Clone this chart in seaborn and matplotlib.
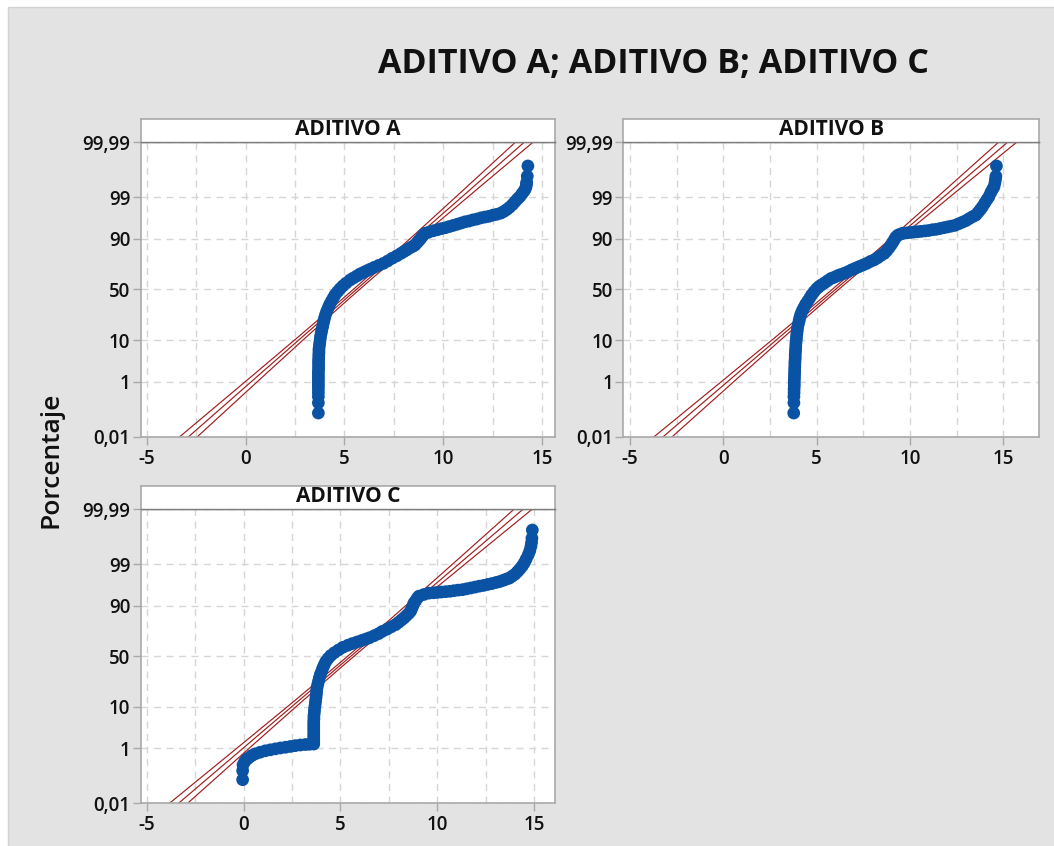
import numpy as np
import matplotlib
matplotlib.use("Agg")
import matplotlib.pyplot as plt
from matplotlib.patches import Rectangle
from matplotlib.ticker import NullLocator
import seaborn as sns
from statistics import NormalDist

# ---------------------------------------------------------------- data
# Observed values and their plotted percentages (Porcentaje)
aditivo_a_x = [3.68, 3.68, 3.68, 3.68, 3.68, 3.68, 3.68, 3.68, 3.68, 3.68, 3.68, 3.69, 3.69,
               3.69, 3.69, 3.70, 3.70, 3.71, 3.71, 3.73, 3.75, 3.77, 3.79, 3.82, 3.85, 3.89,
               3.92, 3.96, 4.00, 4.05, 4.11, 4.18, 4.25, 4.34, 4.43, 4.52, 4.65, 4.78, 4.92,
               5.08, 5.28, 5.45, 5.62, 5.78, 5.95, 6.12, 6.29, 6.50, 6.73, 6.96, 7.18, 7.41,
               7.64, 7.85, 8.00, 8.14, 8.30, 8.45, 8.56, 8.66, 8.75, 8.82, 8.90, 8.98, 9.07,
               9.25, 9.49, 9.70, 9.90, 10.10, 10.30, 10.50, 10.70, 10.90, 11.10, 11.30, 11.50,
               11.70, 11.90, 12.10, 12.30, 12.50, 12.70, 12.90, 13.05, 13.20, 13.35, 13.50,
               13.62, 13.75, 13.87, 13.97, 14.06, 14.13, 14.18, 14.20, 14.21, 14.24, 14.27]
aditivo_a_pct = [0.09, 0.21, 0.34, 0.46, 0.60, 0.75, 0.90, 1.10, 1.30, 1.55, 1.85, 2.2, 2.6,
                 3.1, 3.6, 4.2, 4.9, 5.7, 6.6, 7.7, 8.9, 10.2, 11.7, 13.3, 15.1, 17.1,
                 19.2, 21.5, 24.0, 26.6, 29.4, 32.3, 35.3, 38.4, 41.5, 44.6, 47.8, 50.8, 53.6,
                 56.4, 59.5, 61.4, 63.3, 65.2, 66.6, 68.1, 69.5, 71.2, 72.9, 74.5, 76.4, 78.5,
                 80.2, 81.9, 83.1, 84.1, 85.3, 86.2, 86.9, 88.1, 89.1, 89.8, 90.7, 91.5, 92.2,
                 92.6, 93.1, 93.45, 93.8, 94.06, 94.41, 94.74, 95.05, 95.35, 95.64, 95.82, 96.08,
                 96.25, 96.49, 96.64, 96.78, 96.99, 97.13, 97.32, 97.56, 97.83, 98.12, 98.42,
                 98.68, 98.90, 99.06, 99.22, 99.34, 99.43, 99.53, 99.62, 99.66, 99.79, 99.91]

aditivo_b_x = [3.77, 3.78, 3.78, 3.79, 3.79, 3.80, 3.80, 3.80, 3.81, 3.81, 3.82, 3.82, 3.83,
               3.83, 3.84, 3.85, 3.85, 3.86, 3.87, 3.88, 3.89, 3.91, 3.92, 3.94, 3.96, 3.98,
               4.02, 4.06, 4.10, 4.15, 4.22, 4.31, 4.40, 4.52, 4.63, 4.73, 4.86, 5.00, 5.12,
               5.23, 5.40, 5.58, 5.77, 5.95, 6.13, 6.30, 6.48, 6.68, 6.88, 7.08, 7.28, 7.48,
               7.68, 7.88, 8.08, 8.26, 8.44, 8.62, 8.75, 8.87, 8.98, 9.07, 9.16, 9.24, 9.35,
               9.48, 9.60, 9.80, 10.00, 10.20, 10.40, 10.60, 10.80, 11.00, 11.20, 11.40, 11.60,
               11.80, 12.00, 12.20, 12.40, 12.60, 12.80, 13.00, 13.17, 13.35, 13.52, 13.65,
               13.77, 13.88, 14.00, 14.12, 14.23, 14.33, 14.42, 14.50, 14.55, 14.58, 14.60, 14.63]
aditivo_b_pct = [0.09, 0.21, 0.34, 0.46, 0.60, 0.75, 0.90, 1.10, 1.30, 1.55, 1.85, 2.2, 2.6,
                 3.1, 3.6, 4.2, 4.9, 5.7, 6.6, 7.7, 8.9, 10.2, 11.7, 13.3, 15.1, 17.1,
                 19.2, 21.5, 24.0, 26.6, 29.4, 32.3, 35.3, 38.4, 41.5, 44.6, 47.8, 50.8, 52.8,
                 54.4, 56.4, 58.7, 61.0, 62.2, 63.7, 64.8, 65.9, 67.4, 69.1, 70.5, 71.9, 73.2,
                 74.5, 76.1, 77.3, 78.8, 80.5, 81.9, 83.6, 85.3, 86.9, 88.3, 89.6, 90.7, 91.5,
                 91.9, 92.2, 92.36, 92.51, 92.65, 92.79, 92.92, 93.06, 93.19, 93.45, 93.57, 93.82,
                 94.06, 94.29, 94.52, 94.74, 95.15, 95.54, 95.91, 96.33, 96.71, 96.99, 97.44,
                 97.83, 98.17, 98.54, 98.84, 99.06, 99.29, 99.43, 99.53, 99.65, 99.73, 99.79, 99.91]

aditivo_c_x = [-0.05, -0.05, -0.03, 0.05, 0.15, 0.26, 0.42, 0.60, 0.85, 1.12, 1.38, 1.64, 1.90,
               2.16, 2.42, 2.67, 2.93, 3.19, 3.40, 3.62, 3.62, 3.62, 3.62, 3.62, 3.62, 3.62,
               3.62, 3.62, 3.63, 3.63, 3.65, 3.66, 3.68, 3.70, 3.72, 3.74, 3.76, 3.77, 3.79,
               3.83, 3.87, 3.91, 3.96, 4.03, 4.09, 4.16, 4.24, 4.36, 4.50, 4.68, 4.90, 5.12,
               5.38, 5.60, 5.85, 6.10, 6.30, 6.50, 6.74, 6.97, 7.16, 7.40, 7.62, 7.84, 8.00,
               8.15, 8.28, 8.40, 8.52, 8.62, 8.68, 8.74, 8.79, 8.88, 8.96, 9.05, 9.30, 9.57,
               9.80, 10.00, 10.20, 10.43, 10.65, 10.85, 11.07, 11.29, 11.50, 11.72, 11.94, 12.16,
               12.38, 12.60, 12.80, 13.02, 13.20, 13.38, 13.55, 13.71, 13.85, 14.00, 14.14,
               14.26, 14.38, 14.48, 14.58, 14.69, 14.77, 14.83, 14.86, 14.88, 14.90]
aditivo_c_pct = [0.09, 0.19, 0.30, 0.38, 0.45, 0.51, 0.60, 0.68, 0.76, 0.84, 0.90, 0.96, 1.02,
                 1.07, 1.13, 1.19, 1.24, 1.28, 1.30, 1.32, 1.55, 1.85, 2.2, 2.6, 3.1, 3.6,
                 4.2, 4.9, 5.7, 6.6, 7.7, 8.9, 10.2, 11.7, 13.3, 15.1, 17.1, 19.2, 21.5,
                 24.0, 26.6, 29.4, 32.3, 35.3, 38.4, 41.5, 44.6, 47.8, 50.8, 53.6, 56.4, 59.0,
                 61.0, 62.6, 64.1, 65.6, 66.8, 68.1, 69.9, 71.7, 73.6, 75.4, 77.2, 78.8, 80.5,
                 82.1, 83.4, 84.8, 86.1, 87.3, 88.7, 90.0, 91.1, 92.0, 92.9, 93.6, 94.1, 94.5,
                 94.6, 94.7, 94.8, 94.9, 95.0, 95.15, 95.3, 95.4, 95.6, 95.8, 96.0, 96.2,
                 96.35, 96.55, 96.7, 96.9, 97.05, 97.25, 97.45, 97.6, 97.85, 98.1, 98.4,
                 98.65, 98.88, 99.09, 99.3, 99.49, 99.62, 99.73, 99.8, 99.86, 99.93]

paneles = ["ADITIVO A", "ADITIVO B", "ADITIVO C"]
valores = [aditivo_a_x, aditivo_b_x, aditivo_c_x]
porcentajes = [aditivo_a_pct, aditivo_b_pct, aditivo_c_pct]

# Normal fit per additive: mean, standard deviation, sample size
media = [5.60, 6.00, 5.53]
desv_est = [2.28, 2.48, 2.39]
n_obs = [800, 800, 800]

x_ticks = [-5, 0, 5, 10, 15]
x_labels = ["-5", "0", "5", "10", "15"]
y_ticks = [0.01, 1, 10, 50, 90, 99, 99.99]
y_labels = ["0,01", "1", "10", "50", "90", "99", "99,99"]
x_limits = [(-5.30, 15.64), (-5.36, 16.91), (-5.31, 16.07)]

# ---------------------------------------------------------------- style
sns.set_theme(style="white")
plt.rcParams["font.family"] = ["Open Sans", "DejaVu Sans"]

_nd = NormalDist()
_ppf = np.vectorize(lambda v: _nd.inv_cdf(v / 100.0), otypes=[float])
_cdf = np.vectorize(lambda v: 100.0 * _nd.cdf(v), otypes=[float])


def prob_forward(p):
    p = np.clip(np.asarray(p, dtype=float), 1e-9, 100 - 1e-9)
    return _ppf(p)


def prob_inverse(z):
    return _cdf(np.asarray(z, dtype=float))


W, H = 1054, 846
fig = plt.figure(figsize=(W / 100, H / 100), dpi=100)
fig.patch.set_facecolor("white")
fig.add_artist(Rectangle((8 / W, -0.01), 1.01 - 8 / W, 1.01 - 7 / H, transform=fig.transFigure,
                         facecolor="#e3e3e3", edgecolor="#d2d2d2", lw=1, zorder=-10))

# panel boxes in pixels: left, top, right, bottom
boxes = [(140.7, 142.3, 555.0, 436.7),
         (623.3, 142.3, 1039.0, 436.7),
         (140.7, 509.3, 555.0, 803.3)]
strip_h = 23.3

blue = "#0a53a4"
red = "#a11d1d"
frame = "#a9a9a9"
sep = "#7d7d7d"
grid_c = "#d6d6d6"
ink = "#111111"

for i, (l, t, r, b) in enumerate(boxes):
    ax = fig.add_axes([l / W, 1 - b / H, (r - l) / W, (b - t) / H])
    ax.set_facecolor("white")
    ax.set_yscale("function", functions=(prob_forward, prob_inverse))

    # fitted normal line with 95% confidence bounds
    z = np.linspace(-4.2, 4.2, 169)
    pz = prob_inverse(z)
    mu, sd, n = media[i], desv_est[i], n_obs[i]
    fit = mu + z * sd
    half = 1.96 * sd * np.sqrt((1 + z ** 2 / 2) / n)
    for xs in (fit - half, fit, fit + half):
        sns.lineplot(x=xs, y=pz, ax=ax, sort=False, estimator=None,
                     color=red, lw=0.85, zorder=2)

    sns.scatterplot(x=valores[i], y=porcentajes[i], ax=ax, s=84, color=blue,
                    linewidth=0, edgecolor="none", zorder=3, legend=False)

    ax.set_xlim(*x_limits[i])
    ax.set_ylim(0.01, 99.99)
    ax.set_xlabel("")
    ax.set_ylabel("")

    ax.set_xticks(x_ticks)
    ax.set_xticklabels(x_labels)
    ax.set_xticks([-2.5, 2.5, 7.5, 12.5], minor=True)
    ax.set_yticks(y_ticks)
    ax.set_yticklabels(y_labels)
    ax.yaxis.set_minor_locator(NullLocator())

    ax.set_axisbelow(True)
    ax.grid(True, axis="x", which="both", color=grid_c, ls=(0, (5, 4)), lw=1)
    ax.grid(True, axis="y", which="major", color=grid_c, ls=(0, (5, 4)), lw=1)

    ax.tick_params(axis="both", which="major", direction="out", length=5.5, width=1,
                   color=frame, labelsize=13.5, labelcolor=ink,
                   left=True, bottom=True, top=False, right=False)
    ax.tick_params(axis="y", which="major", pad=2)
    ax.tick_params(axis="x", which="major", pad=3)
    ax.tick_params(which="minor", length=0, left=False, bottom=False)
    for lab in ax.get_xticklabels() + ax.get_yticklabels():
        lab.set_fontweight("semibold")

    for side in ("left", "right", "bottom"):
        ax.spines[side].set_color(frame)
        ax.spines[side].set_linewidth(1.2)
    ax.spines["top"].set_color(sep)
    ax.spines["top"].set_linewidth(1.0)

    # panel header strip
    sax = fig.add_axes([l / W, 1 - t / H, (r - l) / W, strip_h / H])
    sax.set_facecolor("white")
    sax.set_xticks([])
    sax.set_yticks([])
    for side in ("left", "right", "top"):
        sax.spines[side].set_color(frame)
        sax.spines[side].set_linewidth(1.2)
    sax.spines["bottom"].set_color(sep)
    sax.spines["bottom"].set_linewidth(1.0)
    sax.text(0.5, 0.56, paneles[i], ha="center", va="center", fontsize=15,
             fontweight="bold", color=ink, transform=sax.transAxes)

fig.text(51 / W, 1 - 460 / H, "Porcentaje", rotation=90, ha="center", va="center",
         fontsize=19, fontweight="semibold", color=ink)
fig.text(653 / W, 1 - 64 / H, "ADITIVO A; ADITIVO B; ADITIVO C", ha="center",
         va="center", fontsize=24.5, fontweight="bold", color=ink)

fig.savefig("out.png", dpi=100, facecolor=fig.get_facecolor())
